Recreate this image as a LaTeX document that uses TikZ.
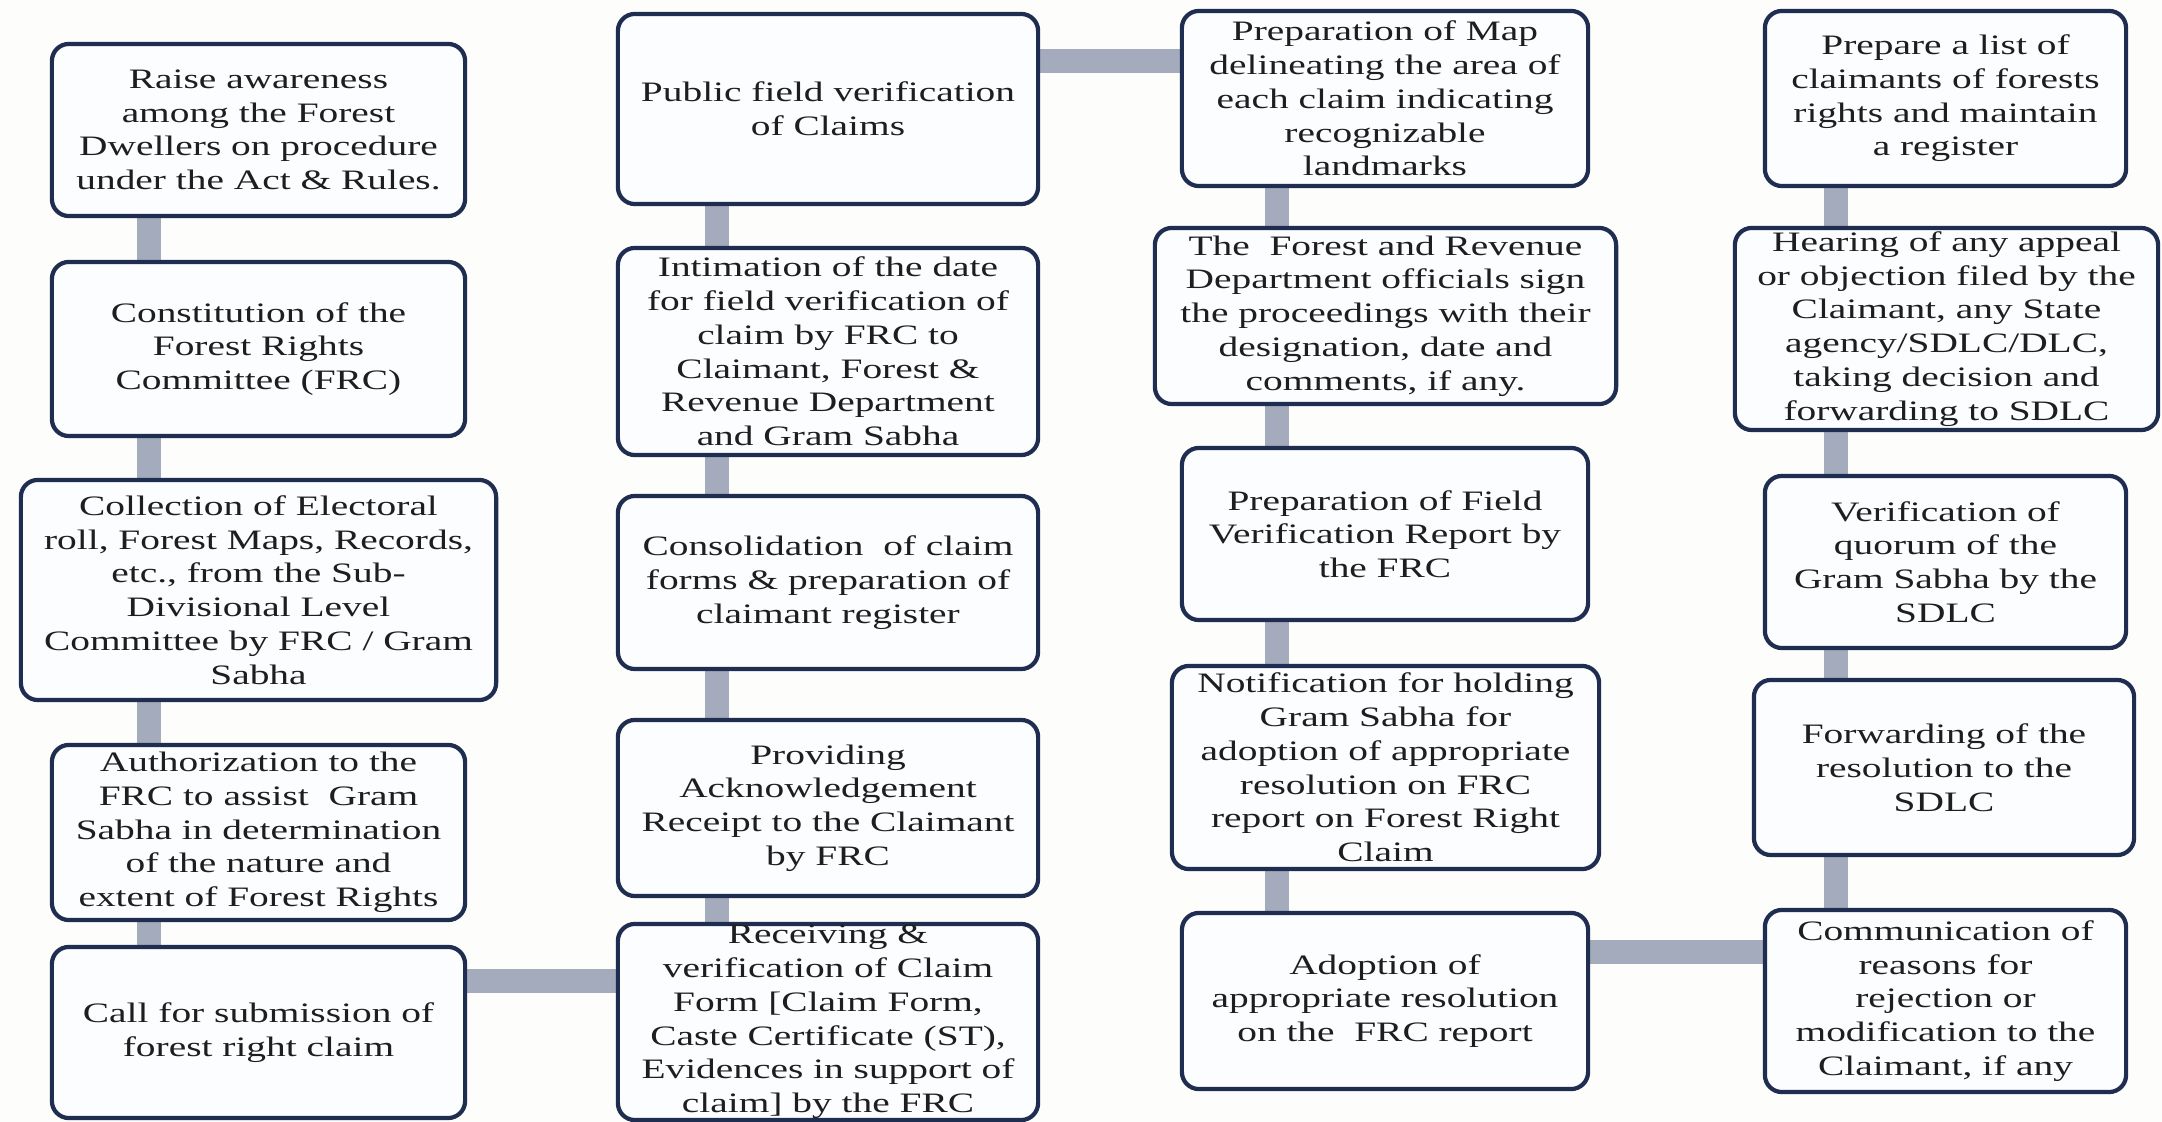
\documentclass[tikz,border=0pt]{standalone}
\usepackage{fontspec}
\usetikzlibrary{backgrounds}
\newfontfamily\boxfont[FakeStretch=1.4]{Liberation Serif}
\definecolor{pagebg}{RGB}{253,253,251}
\definecolor{boxline}{RGB}{30,45,80}
\definecolor{boxfill}{RGB}{252,253,255}
\definecolor{linkgray}{RGB}{163,171,189}
\definecolor{inkgray}{RGB}{30,30,30}
\tikzset{
  stepbox/.style={draw=boxline, line width=1.2pt, fill=boxfill, rounded corners=0.17cm, inner sep=0pt},
  steptext/.style={align=center, inner sep=0pt, text=inkgray, font={\boxfont\fontsize{8pt}{9.6pt}\selectfont}},
  link/.style={draw=linkgray, line width=0.24cm}
}
\begin{document}
\begin{tikzpicture}[x=0.01cm, y=-0.01cm]
\useasboundingbox (0,0) rectangle (2162,1122);

% column guide coordinates for the connector bars
\coordinate (colA) at (149,0);
\coordinate (colB) at (717,0);
\coordinate (colC) at (1277,0);
\coordinate (colD) at (1836,0);
\coordinate (rowTop) at (0,61);
\coordinate (rowLowA) at (0,981);
\coordinate (rowLowB) at (0,952);

% first column
\node[stepbox, minimum width=4.13cm, minimum height=1.72cm] (b1) at (258.5,130) {};
\node[stepbox, minimum width=4.13cm, minimum height=1.74cm] (b2) at (258.5,349) {};
\node[stepbox, minimum width=4.75cm, minimum height=2.20cm] (b3) at (258.5,590) {};
\node[stepbox, minimum width=4.13cm, minimum height=1.75cm] (b4) at (258.5,832.5) {};
\node[stepbox, minimum width=4.13cm, minimum height=1.71cm] (b5) at (258.5,1032.5) {};

% second column
\node[stepbox, minimum width=4.20cm, minimum height=1.90cm] (c1) at (828,109) {};
\node[stepbox, minimum width=4.20cm, minimum height=2.07cm] (c2) at (828,351.5) {};
\node[stepbox, minimum width=4.20cm, minimum height=1.73cm] (c3) at (828,582.5) {};
\node[stepbox, minimum width=4.20cm, minimum height=1.76cm] (c4) at (828,808) {};
\node[stepbox, minimum width=4.20cm, minimum height=1.96cm] (c5) at (828,1022) {};

% third column
\node[stepbox, minimum width=4.06cm, minimum height=1.75cm] (d1) at (1385,98.5) {};
\node[stepbox, minimum width=4.61cm, minimum height=1.76cm] (d2) at (1385.5,316) {};
\node[stepbox, minimum width=4.06cm, minimum height=1.72cm] (d3) at (1385,534) {};
\node[stepbox, minimum width=4.27cm, minimum height=2.03cm] (d4) at (1385.5,767.5) {};
\node[stepbox, minimum width=4.06cm, minimum height=1.76cm] (d5) at (1385,1001) {};

% fourth column
\node[stepbox, minimum width=3.61cm, minimum height=1.75cm] (e1) at (1945.5,98.5) {};
\node[stepbox, minimum width=4.23cm, minimum height=2.02cm] (e2) at (1946.5,329) {};
\node[stepbox, minimum width=3.61cm, minimum height=1.72cm] (e3) at (1945.5,562) {};
\node[stepbox, minimum width=3.80cm, minimum height=1.75cm] (e4) at (1944,767.5) {};
\node[stepbox, minimum width=3.61cm, minimum height=1.82cm] (e5) at (1945.5,1001) {};

% page tint and connector bars behind the boxes
\begin{pgfonlayer}{background}
\fill[pagebg] (0,0) rectangle (2162,1122);
\draw[link] (b1.center -| colA) -- (b2.center -| colA);
\draw[link] (b2.center -| colA) -- (b3.center -| colA);
\draw[link] (b3.center -| colA) -- (b4.center -| colA);
\draw[link] (b4.center -| colA) -- (b5.center -| colA);
\draw[link] (b5.center |- rowLowA) -- (c5.center |- rowLowA);
\draw[link] (c5.center -| colB) -- (c4.center -| colB);
\draw[link] (c4.center -| colB) -- (c3.center -| colB);
\draw[link] (c3.center -| colB) -- (c2.center -| colB);
\draw[link] (c2.center -| colB) -- (c1.center -| colB);
\draw[link] (c1.center |- rowTop) -- (d1.center |- rowTop);
\draw[link] (d1.center -| colC) -- (d2.center -| colC);
\draw[link] (d2.center -| colC) -- (d3.center -| colC);
\draw[link] (d3.center -| colC) -- (d4.center -| colC);
\draw[link] (d4.center -| colC) -- (d5.center -| colC);
\draw[link] (d5.center |- rowLowB) -- (e5.center |- rowLowB);
\draw[link] (e5.center -| colD) -- (e4.center -| colD);
\draw[link] (e4.center -| colD) -- (e3.center -| colD);
\draw[link] (e3.center -| colD) -- (e2.center -| colD);
\draw[link] (e2.center -| colD) -- (e1.center -| colD);
\end{pgfonlayer}

% step texts
\node[steptext] (b1t) at (b1) {Raise awareness\\among the Forest\\Dwellers on procedure\\under the Act \& Rules.};
\node[steptext] (b2t) at (b2) {Constitution of the\\Forest Rights\\Committee (FRC)};
\node[steptext] (b3t) at (b3) {Collection of Electoral\\roll, Forest Maps, Records,\\etc., from the Sub-\\Divisional Level\\Committee by FRC / Gram\\Sabha};
\node[steptext] (b4t) at (b4) {Authorization to the\\FRC to assist~ Gram\\Sabha in determination\\of the nature and\\extent of Forest Rights};
\node[steptext] (b5t) at (b5) {Call for submission of\\forest right claim};

\node[steptext] (c1t) at (c1) {Public field verification\\of Claims};
\node[steptext] (c2t) at (c2) {Intimation of the date\\for field verification of\\claim by FRC to\\Claimant, Forest \&\\Revenue Department\\and Gram Sabha};
\node[steptext] (c3t) at (c3) {Consolidation~ of claim\\forms \& preparation of\\claimant register};
\node[steptext] (c4t) at (c4) {Providing\\Acknowledgement\\Receipt to the Claimant\\by FRC};
\node[steptext] (c5t) at (c5) {Receiving \&\\verification of Claim\\Form [Claim Form,\\Caste Certificate (ST),\\Evidences in support of\\claim] by the FRC};

\node[steptext] (d1t) at (d1) {Preparation of Map\\delineating the area of\\each claim indicating\\recognizable\\landmarks};
\node[steptext] (d2t) at (d2) {The~ Forest and Revenue\\Department officials sign\\the proceedings with their\\designation, date and\\comments, if any.};
\node[steptext] (d3t) at (d3) {Preparation of Field\\Verification Report by\\the FRC};
\node[steptext] (d4t) at (d4) {Notification for holding\\Gram Sabha for\\adoption of appropriate\\resolution on FRC\\report on Forest Right\\Claim};
\node[steptext] (d5t) at (d5) {Adoption of\\appropriate resolution\\on the~ FRC report};

\node[steptext] (e1t) at (e1) {Prepare a list of\\claimants of forests\\rights and maintain\\a register};
\node[steptext] (e2t) at (e2) {Hearing of any appeal\\or objection filed by the\\Claimant, any State\\agency/SDLC/DLC,\\taking decision and\\forwarding to SDLC};
\node[steptext] (e3t) at (e3) {Verification of\\quorum of the\\Gram Sabha by the\\SDLC};
\node[steptext] (e4t) at (e4) {Forwarding of the\\resolution to the\\SDLC};
\node[steptext] (e5t) at (e5) {Communication of\\reasons for\\rejection or\\modification to the\\Claimant, if any};
\end{tikzpicture}
\end{document}
